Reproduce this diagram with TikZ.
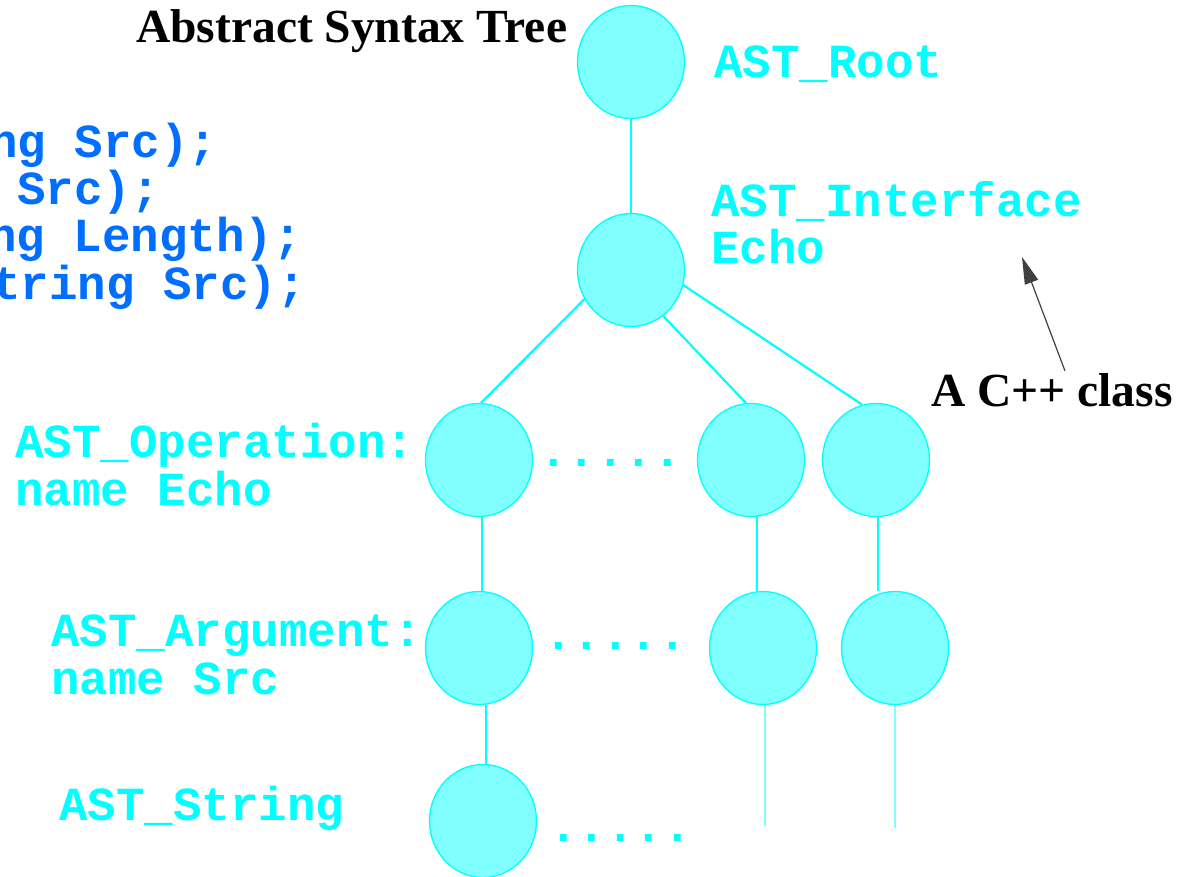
\documentclass[tikz,border=0pt]{standalone}
\usepackage{fontspec}
\setmainfont{Liberation Serif}
\setmonofont{Liberation Mono}
\usetikzlibrary{shapes.geometric,arrows.meta,calc}
\definecolor{cy}{RGB}{0,255,255}
\definecolor{cyfill}{RGB}{128,255,255}
\definecolor{codeblue}{RGB}{0,110,255}
\definecolor{arrowgray}{RGB}{64,64,64}
\begin{document}
\begin{tikzpicture}[x=1pt,y=-1pt,
  astnode/.style={ellipse, draw=cy, fill=cyfill, line width=1.3pt,
    minimum width=107pt, minimum height=113pt, inner sep=0pt},
  edge/.style={draw=cy, line width=2.2pt},
  tail/.style={draw=cyfill, line width=2.6pt},
  monotext/.style={font=\ttfamily\bfseries\fontsize{47.5}{47.5}\selectfont,
    inner sep=0pt, anchor=base west, align=left},
  cytext/.style={monotext, text=cy},
  codetext/.style={monotext, text=codeblue},
  blacktext/.style={font=\bfseries\fontsize{47.5}{47.5}\selectfont,
    inner sep=0pt, anchor=base west}
]
\useasboundingbox (0,0) rectangle (1194,877);

% tree nodes
\node[astnode] (root)   at (631,62)  {};
\node[astnode] (iface)  at (631,270) {};
\node[astnode] (op)     at (479,460) {};
\node[astnode] (mid)    at (751,460) {};
\node[astnode] (right)  at (876,460) {};
\node[astnode] (arg)    at (479,648) {};
\node[astnode] (mid3)   at (763,648) {};
\node[astnode] (right3) at (895,648) {};
\node[astnode] (str)    at (483,821) {};

% edges
\draw[edge] (root.south) -- (iface.north);
\draw[edge] (iface.212) -- (op.88);
\draw[edge] (iface.305) -- (mid.95);
\draw[edge] (iface.344) -- (right.104);
\draw[edge] (op.-87) -- (op.-87 |- arg.north);
\draw[edge] (mid.-84) -- (mid.-84 |- mid3.north);
\draw[edge] (right.-88) -- (right.-88 |- right3.north);
\draw[edge] (arg.-83) -- (arg.-83 |- str.north);
\coordinate (tailA) at (765,826);
\coordinate (tailB) at (895,828);
\draw[tail] (mid3.-88) -- (mid3.-88 |- tailA);
\draw[tail] (right3.south) -- (tailB);

% labels (base anchor = baseline of last line)
\node[blacktext] (title) at (136,43) {Abstract Syntax Tree};
\node[cytext] (lroot) at (714,78) {AST\_Root};
\node[cytext] (liface) at (711,264) {AST\_Interface\\Echo};
\node[cytext] (lop) at (15,505) {AST\_Operation:\\name Echo};
\node[cytext] (larg) at (51,694) {AST\_Argument:\\name Src};
\node[cytext] (lstr) at (59,820) {AST\_String};

% dots
\node[cytext] (dots1) at (539,466) {.....};
\node[cytext] (dots2) at (544,649) {.....};
\node[cytext] (dots3) at (549,841) {.....};

% code fragments
\node[codetext] (code1) at (-11,158) {ng Src);};
\node[codetext] (code2) at (17,205) {Src);};
\node[codetext] (code3) at (-12,252) {ng Length);};
\node[codetext] (code4) at (-8,300) {tring Src);};

% C++ class annotation
\node[blacktext] (cpp) at (931,406) {A C++ class};
\coordinate (tip) at (1022,257);
\draw[arrowgray, line width=1.2pt, -{Triangle[length=27pt,width=14pt]}]
  ($(cpp.north)+(13,-2)$) -- (tip);
\end{tikzpicture}
\end{document}
